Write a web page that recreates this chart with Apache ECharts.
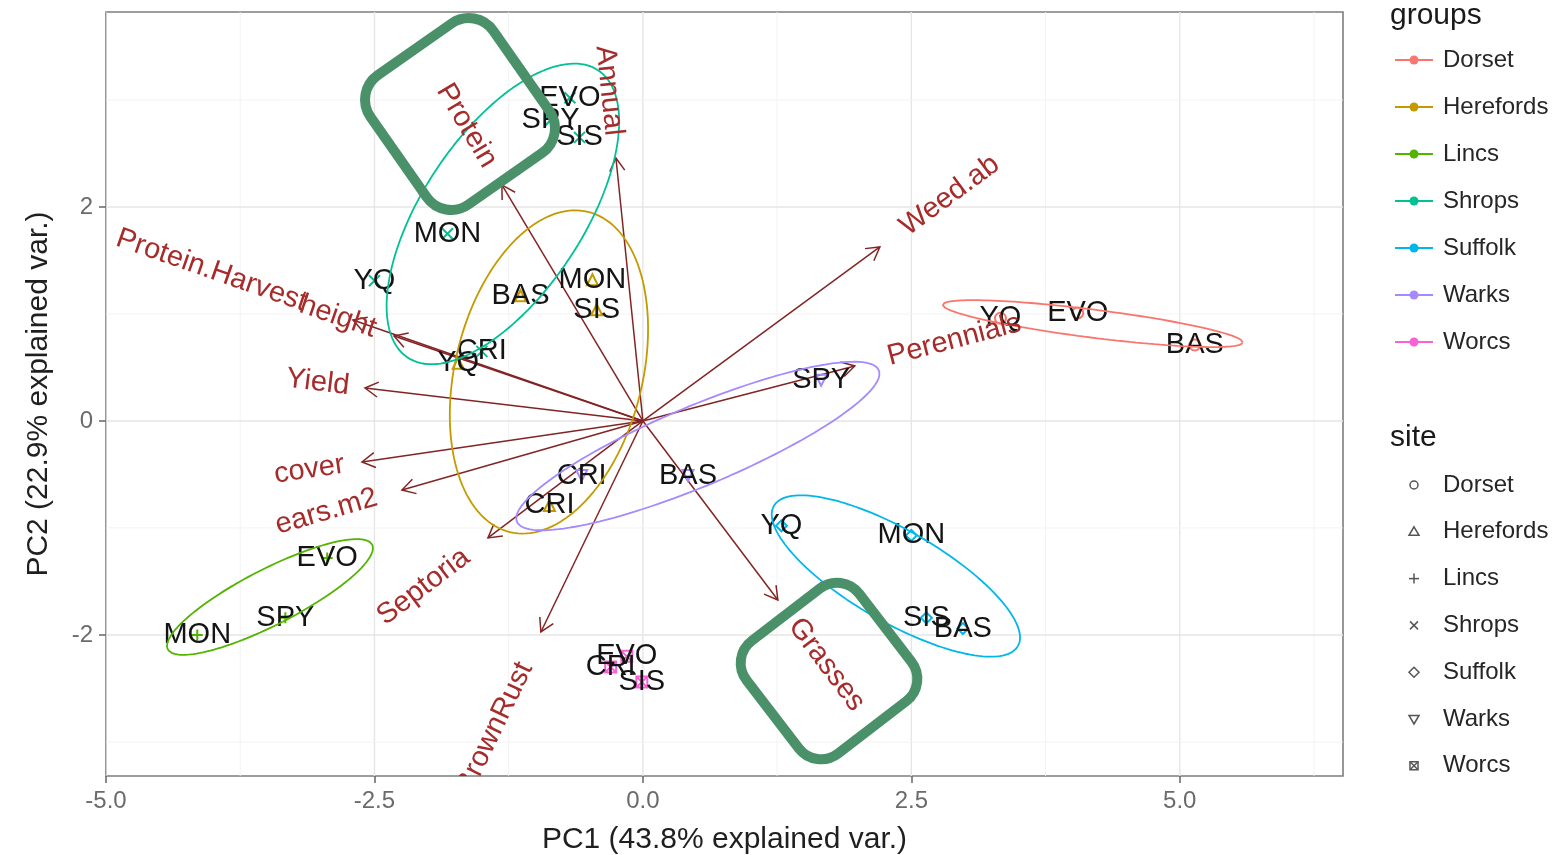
<!DOCTYPE html>
<html>
<head>
<meta charset="utf-8">
<title>PCA biplot</title>
<script src="https://cdn.jsdelivr.net/npm/echarts@6/dist/echarts.min.js"></script>
<style>
  html, body { margin: 0; padding: 0; background: #ffffff; }
  #chart { width: 1566px; height: 855px; }
</style>
</head>
<body>
<div id="chart"></div>
<script>
const FONT = '"Liberation Sans", Arial, Helvetica, sans-serif';

// sites (groups) and their colours
const groupNames = ['Dorset', 'Herefords', 'Lincs', 'Shrops', 'Suffolk', 'Warks', 'Worcs'];
const groupColours = ['#F8766D', '#C49A00', '#53B400', '#00C094', '#00B6EB', '#A58AFF', '#FB61D7'];

// point shape for each site
const siteSymbols = ['circle', 'triangle', 'path://M0,-1L0,1M-1,0L1,0', 'path://M-1,-1L1,1M1,-1L-1,1',
  'diamond', 'triangle', 'path://M-1,-1L1,-1L1,1L-1,1ZM-1,-1L1,1M1,-1L-1,1'];
const siteSymbolRotate = [0, 0, 0, 0, 0, 180, 0];

// PC1 / PC2 scores of each variety, per site
const dorsetScores = [['YQ', 3.33, 0.96], ['EVO', 4.05, 1.01], ['BAS', 5.14, 0.71]];
const herefordsScores = [['MON', -0.47, 1.32], ['SIS', -0.43, 1.04], ['BAS', -1.14, 1.17], ['YQ', -1.72, 0.54], ['CRI', -0.87, -0.79]];
const lincsScores = [['EVO', -2.94, -1.28], ['SPY', -3.33, -1.84], ['MON', -4.15, -2.00]];
const shropsScores = [['EVO', -0.68, 3.02], ['SPY', -0.86, 2.81], ['SIS', -0.59, 2.65], ['MON', -1.82, 1.75], ['YQ', -2.50, 1.31], ['CRI', -1.50, 0.65]];
const suffolkScores = [['YQ', 1.29, -0.98], ['MON', 2.50, -1.07], ['SIS', 2.64, -1.84], ['BAS', 2.98, -1.94]];
const warksScores = [['SPY', 1.66, 0.38], ['BAS', 0.42, -0.51], ['CRI', -0.57, -0.51]];
const worcsScores = [['EVO', -0.15, -2.20], ['CRI', -0.30, -2.30], ['SIS', -0.01, -2.44]];
const scoresBySite = [dorsetScores, herefordsScores, lincsScores, shropsScores, suffolkScores, warksScores, worcsScores];

// concentration ellipses: centre, semi-axes, tilt (degrees)
const ellipseCentres = [[4.19, 0.91], [-0.875, 0.458], [-3.473, -1.645], [-1.304, 1.935], [2.356, -1.449], [0.512, -0.234], null];
const ellipseRadii = [[1.408, 0.131], [1.54, 0.873], [1.07, 0.26], [1.609, 0.746], [1.312, 0.429], [1.828, 0.373], null];
const ellipseTilt = [-7.2, 76.3, 27.2, 56.6, -30, 22.8, null];

// variable loadings (arrow tips)
const varNames = ['Protein', 'Annual', 'Weed.ab', 'Perennials', 'Grasses', 'BrownRust', 'Septoria',
  'ears.m2', 'cover', 'Yield', 'height', 'Protein.Harvest'];
const varPC1 = [-1.313, -0.251, 2.207, 1.974, 1.257, -0.950, -1.443, -2.244, -2.616, -2.588, -2.318, -2.700];
const varPC2 = [2.206, 2.458, 1.626, 0.514, -1.673, -1.972, -1.093, -0.645, -0.383, 0.308, 0.794, 0.944];

// axes
const xRange = [-5, 6.52];
const yRange = [-3.318, 3.822];
const xTicks = [-5, -2.5, 0, 2.5, 5];
const yTicks = [-2, 0, 2];
const xMinorBreaks = [-3.75, -1.25, 1.25, 3.75, 6.25];
const yMinorBreaks = [-3, -1, 1, 3];
const xTitle = 'PC1 (43.8% explained var.)';
const yTitle = 'PC2 (22.9% explained var.)';

const ARROW_COLOUR = '#832424';
const VARNAME_COLOUR = '#a62c2c';
const VARNAME_SIZE = 29;
const LABEL_SIZE = 29;

const measureCtx = document.createElement('canvas').getContext('2d');
function textWidth(str, size) {
  measureCtx.font = size + 'px ' + FONT;
  return measureCtx.measureText(str).width;
}

function ellipseOutline(c, r, tiltDeg) {
  const pts = [];
  const t = tiltDeg * Math.PI / 180;
  const n = 144;
  for (let k = 0; k <= n; k++) {
    const th = 2 * Math.PI * k / n;
    const ex = r[0] * Math.cos(th), ey = r[1] * Math.sin(th);
    pts.push([c[0] + ex * Math.cos(t) - ey * Math.sin(t), c[1] + ex * Math.sin(t) + ey * Math.cos(t)]);
  }
  return pts;
}

const series = [];

// panel grid lines: [value, orientation (0 = vertical), minor flag]
const gridData = []
  .concat(xTicks.map(v => [v, 0, 0]))
  .concat(xMinorBreaks.map(v => [v, 0, 1]))
  .concat(yTicks.map(v => [v, 1, 0]))
  .concat(yMinorBreaks.map(v => [v, 1, 1]));
series.push({
  type: 'custom', silent: true, z: 1, clip: true,
  data: gridData,
  renderItem(params, api) {
    const cs = params.coordSys;
    const v = api.value(0), dir = api.value(1), minor = api.value(2);
    let shape;
    if (dir === 0) {
      const px = api.coord([v, 0])[0];
      shape = { x1: px, y1: cs.y, x2: px, y2: cs.y + cs.height };
    } else {
      const py = api.coord([0, v])[1];
      shape = { x1: cs.x, y1: py, x2: cs.x + cs.width, y2: py };
    }
    return {
      type: 'line', shape,
      style: { stroke: minor ? '#f2f2f2' : '#e6e6e6', lineWidth: minor ? 0.9 : 1.4 }
    };
  }
});

// loading arrows
series.push({
  type: 'custom', silent: true, z: 2, clip: true,
  data: varNames.map((n, i) => [varPC1[i], varPC2[i], i]),
  renderItem(params, api) {
    const o = api.coord([0, 0]);
    const p = api.coord([api.value(0), api.value(1)]);
    const dx = p[0] - o[0], dy = p[1] - o[1];
    const L = Math.hypot(dx, dy);
    const ux = dx / L, uy = dy / L;
    const h = 13, w = h * Math.tan(Math.PI / 6);
    const bx = p[0] - ux * h, by = p[1] - uy * h;
    return {
      type: 'group',
      children: [
        { type: 'line', shape: { x1: o[0], y1: o[1], x2: p[0], y2: p[1] },
          style: { stroke: ARROW_COLOUR, lineWidth: 1.5 } },
        { type: 'polyline',
          shape: { points: [[bx - uy * w, by + ux * w], [p[0], p[1]], [bx + uy * w, by - ux * w]] },
          style: { stroke: ARROW_COLOUR, lineWidth: 1.5, fill: null } }
      ]
    };
  }
});

// sample points with variety labels
scoresBySite.forEach((scores, g) => {
  series.push({
    type: 'scatter', name: groupNames[g], z: 3,
    symbol: siteSymbols[g], symbolRotate: siteSymbolRotate[g], symbolSize: 11,
    itemStyle: { color: 'rgba(0,0,0,0)', borderColor: groupColours[g], borderWidth: 2, opacity: 1 },
    label: {
      show: true, position: 'inside', formatter: '{b}', opacity: 1,
      color: '#141414', fontSize: LABEL_SIZE, fontFamily: FONT
    },
    labelLayout: { hideOverlap: false },
    data: scores.map(s => ({ name: s[0], value: [s[1], s[2]] }))
  });
});

// concentration ellipses
groupNames.forEach((name, g) => {
  if (!ellipseCentres[g]) return;
  series.push({
    type: 'line', name: name + ' ellipse', z: 4, silent: true,
    showSymbol: false, symbol: 'none', smooth: false,
    lineStyle: { color: groupColours[g], width: 1.8 },
    data: ellipseOutline(ellipseCentres[g], ellipseRadii[g], ellipseTilt[g])
  });
});

// variable names placed beyond arrow tips, rotated along the arrow
series.push({
  type: 'custom', silent: true, z: 5, clip: true,
  data: varNames.map((n, i) => [varPC1[i], varPC2[i], i]),
  renderItem(params, api) {
    const x = api.value(0), y = api.value(1), i = api.value(2);
    const p = api.coord([x, y]);
    const label = varNames[i];
    const gap = 0.25 * textWidth(label, VARNAME_SIZE);
    const right = x > 0;
    return {
      type: 'text', x: p[0], y: p[1], rotation: Math.atan(y / x),
      style: {
        text: label, x: right ? gap : -gap, y: 0,
        align: right ? 'left' : 'right', verticalAlign: 'middle',
        fill: VARNAME_COLOUR, fontSize: VARNAME_SIZE, fontFamily: FONT
      }
    };
  }
});

// legends and annotation boxes
const graphics = [];
const LEG_X = 1390;
graphics.push({ type: 'text', x: LEG_X, y: 16, style: { text: 'groups', fontSize: 30, fontFamily: FONT, fill: '#1a1a1a', verticalAlign: 'middle' } });
groupNames.forEach((name, g) => {
  const y = 60 + 47 * g;
  graphics.push({ type: 'line', shape: { x1: 1395, y1: y, x2: 1433, y2: y }, style: { stroke: groupColours[g], lineWidth: 2.2 } });
  graphics.push({ type: 'circle', shape: { cx: 1414, cy: y, r: 4.5 }, style: { fill: groupColours[g] } });
  graphics.push({ type: 'text', x: 1443, y: y, style: { text: name, fontSize: 24, fontFamily: FONT, fill: '#262626', verticalAlign: 'middle' } });
});

function seg(x1, y1, x2, y2, st) {
  return { type: 'line', shape: { x1, y1, x2, y2 }, style: st };
}
function legendShape(k, cx, cy) {
  const r = 5;
  const st = { stroke: '#555555', lineWidth: 1.5, fill: null };
  switch (k) {
    case 0: return { type: 'circle', shape: { cx, cy, r: 4 }, style: st };
    case 1: return { type: 'polygon', shape: { points: [[cx, cy - r], [cx + r, cy + r * 0.7], [cx - r, cy + r * 0.7]] }, style: st };
    case 2: return { type: 'group', children: [seg(cx - r, cy, cx + r, cy, st), seg(cx, cy - r, cx, cy + r, st)] };
    case 3: return { type: 'group', children: [seg(cx - 4, cy - 4, cx + 4, cy + 4, st), seg(cx + 4, cy - 4, cx - 4, cy + 4, st)] };
    case 4: return { type: 'polygon', shape: { points: [[cx, cy - r], [cx + r, cy], [cx, cy + r], [cx - r, cy]] }, style: st };
    case 5: return { type: 'polygon', shape: { points: [[cx, cy + r], [cx + r, cy - r * 0.7], [cx - r, cy - r * 0.7]] }, style: st };
    default: return { type: 'group', children: [
      { type: 'rect', shape: { x: cx - 4, y: cy - 4, width: 8, height: 8 }, style: st },
      seg(cx - 4, cy - 4, cx + 4, cy + 4, st), seg(cx + 4, cy - 4, cx - 4, cy + 4, st)] };
  }
}
graphics.push({ type: 'text', x: LEG_X, y: 438, style: { text: 'site', fontSize: 30, fontFamily: FONT, fill: '#1a1a1a', verticalAlign: 'middle' } });
groupNames.forEach((name, g) => {
  const y = 485 + 46.8 * g;
  graphics.push(legendShape(g, 1414, y));
  graphics.push({ type: 'text', x: 1443, y: y, style: { text: name, fontSize: 24, fontFamily: FONT, fill: '#262626', verticalAlign: 'middle' } });
});

// highlight boxes around two loading labels
const boxStyle = { fill: null, stroke: '#4a916a', lineWidth: 10 };
graphics.push({ type: 'rect', x: 460, y: 114, rotation: 35 * Math.PI / 180, z: 100,
  shape: { x: -75, y: -79, width: 150, height: 158, r: 30 }, style: boxStyle });
graphics.push({ type: 'rect', x: 829, y: 671, rotation: 37.5 * Math.PI / 180, z: 100,
  shape: { x: -71, y: -71, width: 142, height: 142, r: 28 }, style: boxStyle });

const chart = echarts.init(document.getElementById('chart'), null, { renderer: 'canvas' });
chart.setOption({
  animation: false,
  backgroundColor: '#ffffff',
  textStyle: { fontFamily: FONT },
  grid: {
    left: 106, top: 12, right: 223, bottom: 79,
    show: true, backgroundColor: '#ffffff', borderColor: '#7d7d7d', borderWidth: 1.6,
    containLabel: false, outerBoundsMode: 'none'
  },
  xAxis: {
    type: 'value', min: xRange[0], max: xRange[1], position: 'bottom',
    axisLine: { show: false, onZero: false },
    splitLine: { show: false },
    axisTick: { show: true, inside: false, customValues: xTicks, length: 7, lineStyle: { color: '#666666', width: 1.5 } },
    axisLabel: { customValues: xTicks, formatter: v => v.toFixed(1), margin: 13, fontSize: 24, color: '#6b6b6b', fontFamily: FONT },
    name: xTitle, nameLocation: 'middle', nameGap: 49,
    nameTextStyle: { fontSize: 30, color: '#1f1f1f', fontFamily: FONT }
  },
  yAxis: {
    type: 'value', min: yRange[0], max: yRange[1], position: 'left',
    axisLine: { show: false, onZero: false },
    splitLine: { show: false },
    axisTick: { show: true, inside: false, customValues: yTicks, length: 7, lineStyle: { color: '#666666', width: 1.5 } },
    axisLabel: { customValues: yTicks, formatter: v => String(v), margin: 13, fontSize: 24, color: '#6b6b6b', fontFamily: FONT },
    name: yTitle, nameLocation: 'middle', nameGap: 52,
    nameTextStyle: { fontSize: 30, color: '#1f1f1f', fontFamily: FONT }
  },
  graphic: graphics,
  series: series
});
</script>
</body>
</html>
